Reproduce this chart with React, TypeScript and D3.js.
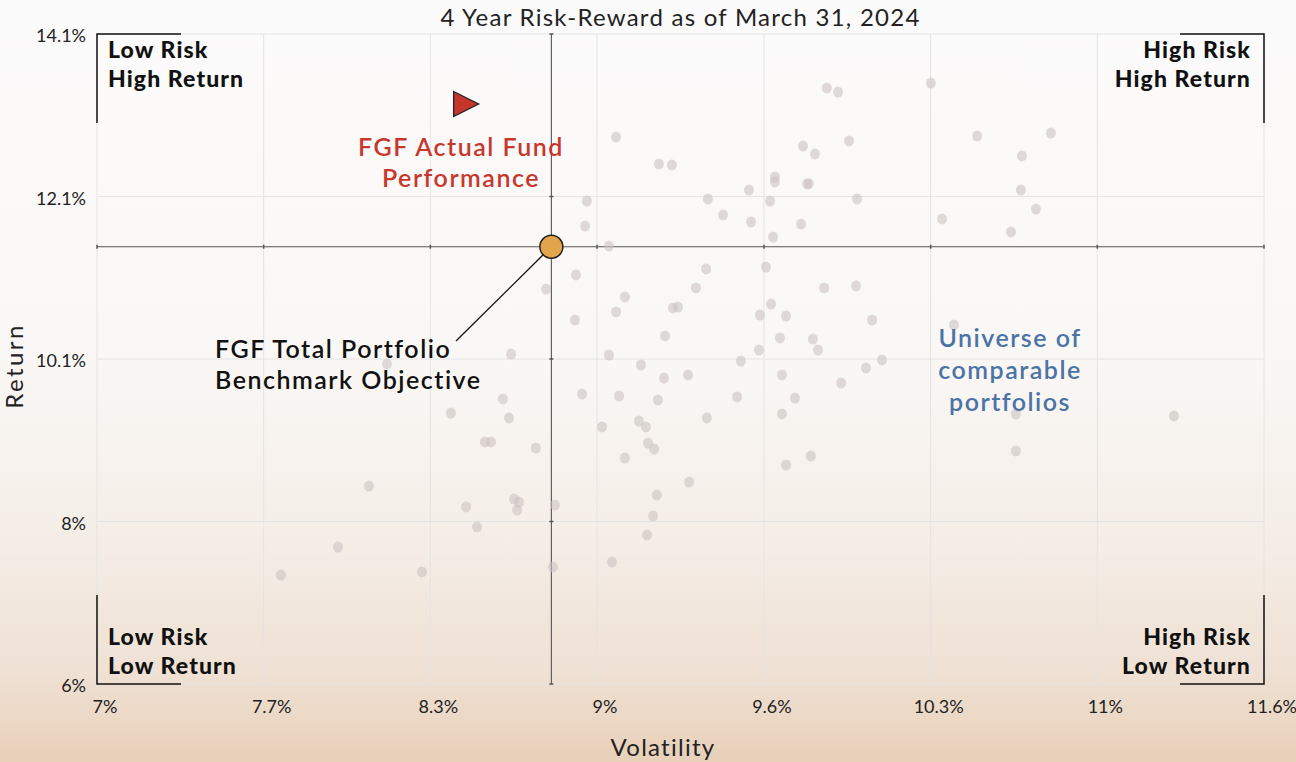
import React from "react";
import * as d3 from "d3";

const W = 1296;
const H = 762;

const title = "4 Year Risk-Reward as of March 31, 2024";
const xAxisLabel = "Volatility";
const yAxisLabel = "Return";

const xDomain = [7, 11.6];
const yDomain = [6, 14.1];
const xTickValues = [7, 7.657, 8.314, 8.971, 9.629, 10.286, 10.943, 11.6];
const xTickLabels = ["7%", "7.7%", "8.3%", "9%", "9.6%", "10.3%", "11%", "11.6%"];
const yTickValues = [6, 8.025, 10.05, 12.075, 14.1];
const yTickLabels = ["6%", "8%", "10.1%", "12.1%", "14.1%"];

// Universe of comparable portfolios (volatility %, return %)
const universeVol = [
  9.046, 9.215, 9.266, 8.931, 8.924, 9.018, 9.408, 9.468, 9.401, 9.361,
  8.888, 8.77, 9.081, 9.046, 9.27, 9.29, 8.884, 9.877, 9.921, 10.287,
  9.783, 9.83, 9.964, 10.469, 10.76, 10.646, 9.672, 9.672, 9.799, 9.806,
  9.57, 9.653, 9.996, 10.642, 10.701, 10.331, 9.578, 9.775, 9.665, 10.603,
  9.637, 9.866, 9.992, 9.657, 9.613, 9.716, 10.055, 10.378, 9.239, 9.692,
  9.822, 9.842, 9.609, 9.018, 9.538, 10.094, 10.031, 9.144, 9.235, 9.33,
  9.7, 9.933, 8.912, 9.058, 9.211, 9.523, 9.751, 9.404, 9.7, 8.991,
  9.136, 9.164, 9.172, 9.196, 9.081, 9.814, 9.716, 9.334, 9.207, 9.192,
  9.168, 10.622, 11.245, 10.622, 8.632, 8.143, 8.6, 8.624, 8.395, 8.529,
  8.553, 8.73, 8.072, 8.455, 8.644, 8.663, 8.656, 8.805, 8.498, 7.95,
  8.797, 7.725, 8.281, 9.03,
];
const universeRet = [
  12.816, 12.48, 12.467, 12.019, 11.707, 11.458, 12.044, 11.844, 11.172, 10.935,
  11.097, 10.922, 10.823, 10.636, 10.686, 10.698, 10.536, 13.427, 13.377, 13.489,
  12.704, 12.605, 12.767, 12.829, 12.866, 12.58, 12.318, 12.256, 12.231, 12.235,
  12.156, 12.019, 12.044, 12.156, 11.919, 11.795, 11.757, 11.732, 11.57, 11.633,
  11.196, 10.935, 10.96, 10.735, 10.598, 10.586, 10.536, 10.474, 10.337, 10.312,
  10.299, 10.162, 10.162, 10.1, 10.025, 10.038, 9.938, 9.975, 9.813, 9.851,
  9.851, 9.751, 9.614, 9.589, 9.539, 9.577, 9.564, 9.315, 9.365, 9.203,
  9.277, 9.203, 9.003, 8.928, 8.816, 8.841, 8.729, 8.517, 8.355, 8.094,
  7.857, 9.365, 9.34, 8.904, 10.112, 9.988, 9.552, 9.315, 9.377, 9.016,
  9.016, 8.941, 8.467, 8.206, 8.305, 8.268, 8.168, 8.231, 7.956, 7.707,
  7.458, 7.358, 7.396, 7.52,
];

const benchmark = { vol: 8.791, ret: 11.449 };
const actualFund = { vol: 8.455, ret: 13.228 };

const actualLabel = ["FGF Actual Fund", "Performance"];
const benchmarkLabel = ["FGF Total Portfolio", "Benchmark Objective"];
const universeLabel = ["Universe of", "comparable", "portfolios"];
const cornerLabels = {
  tl: ["Low Risk", "High Return"],
  tr: ["High Risk", "High Return"],
  bl: ["Low Risk", "Low Return"],
  br: ["High Risk", "Low Return"],
};

const FONT = "Lato, 'Open Sans', sans-serif";

export default function App() {
  const margin = { left: 97, right: W - 1264, top: 34, bottom: H - 684 };
  const x = d3.scaleLinear().domain(xDomain).range([margin.left, W - margin.right]);
  const y = d3.scaleLinear().domain(yDomain).range([H - margin.bottom, margin.top]);
  const x0 = x.range()[0];
  const x1 = x.range()[1];
  const y0 = y.range()[0];
  const y1 = y.range()[1];
  const bx = x(benchmark.vol);
  const by = y(benchmark.ret);
  const ax = x(actualFund.vol);
  const ay = y(actualFund.ret);
  const br = 11.5;
  const arm = 84;
  const armV = 89;

  const points = universeVol.map((v, i) => ({ v, r: universeRet[i] }));

  const cornerStyle = { fontFamily: FONT, fontWeight: 900, fontSize: 23, letterSpacing: 1.1, fill: "#111" } as const;
  const annStyle = { fontFamily: FONT, fontWeight: 600, fontSize: 25, letterSpacing: 1.5 } as const;
  const plainStyle = { fontFamily: FONT, fontSize: 24, letterSpacing: 1.25, fill: "#222" } as const;

  // leader line end
  const lx = 456;
  const ly = 341;
  const ang = Math.atan2(ly - by, lx - bx);

  return (
    <div>
      <style>{`body{margin:0;}`}</style>
      <svg width={W} height={H} style={{ display: "block" }}>
        <defs>
          <linearGradient id="bg" x1="0" y1="0" x2="0" y2="1">
            <stop offset="0" stopColor="#fcfbfb" />
            <stop offset="0.45" stopColor="#faf8f6" />
            <stop offset="0.7" stopColor="#f5eee8" />
            <stop offset="0.88" stopColor="#efe1d4" />
            <stop offset="1" stopColor="#e8d0b9" />
          </linearGradient>
        </defs>
        <rect x={0} y={0} width={W} height={H} fill="url(#bg)" />

        {/* gridlines */}
        {xTickValues.map((t, i) => (
          <line key={"gx" + i} x1={x(t)} x2={x(t)} y1={y1} y2={y0} stroke="#e4e4e4" strokeWidth={1} />
        ))}
        {yTickValues.map((t, i) => (
          <line key={"gy" + i} x1={x0} x2={x1} y1={y(t)} y2={y(t)} stroke="#e4e4e4" strokeWidth={1} />
        ))}

        {/* crosshair */}
        <line x1={bx} x2={bx} y1={y1} y2={y0} stroke="#555" strokeWidth={1.1} />
        <line x1={x0} x2={x1} y1={by} y2={by} stroke="#555" strokeWidth={1.1} />
        {xTickValues.map((t, i) => (
          <line key={"cx" + i} x1={x(t)} x2={x(t)} y1={by - 2} y2={by + 2} stroke="#555" strokeWidth={1.5} />
        ))}
        {yTickValues.map((t, i) => (
          <line key={"cy" + i} x1={bx - 2} x2={bx + 2} y1={y(t)} y2={y(t)} stroke="#555" strokeWidth={1.5} />
        ))}

        {/* universe points */}
        {points.map((p, i) => (
          <ellipse key={"p" + i} cx={x(p.v)} cy={y(p.r)} rx={5} ry={5.5} fill="#cbc3c1" fillOpacity={0.6} />
        ))}

        {/* corner brackets */}
        <path d={`M${x0 + arm},${y1} H${x0} V${y1 + armV}`} fill="none" stroke="#111" strokeWidth={1.5} />
        <path d={`M${x0},${y0 - armV} V${y0} H${x0 + arm}`} fill="none" stroke="#111" strokeWidth={1.5} />
        <path d={`M${x1 - arm},${y1} H${x1} V${y1 + armV}`} fill="none" stroke="#111" strokeWidth={1.5} />
        <path d={`M${x1},${y0 - armV} V${y0} H${x1 - arm}`} fill="none" stroke="#111" strokeWidth={1.5} />

        <text style={cornerStyle}>
          <tspan x={x0 + 11} y={y1 + 24}>{cornerLabels.tl[0]}</tspan>
          <tspan x={x0 + 11} y={y1 + 53}>{cornerLabels.tl[1]}</tspan>
        </text>
        <text textAnchor="end" style={cornerStyle}>
          <tspan x={x1 - 13} y={y1 + 24}>{cornerLabels.tr[0]}</tspan>
          <tspan x={x1 - 13} y={y1 + 53}>{cornerLabels.tr[1]}</tspan>
        </text>
        <text style={cornerStyle}>
          <tspan x={x0 + 11} y={y0 - 39}>{cornerLabels.bl[0]}</tspan>
          <tspan x={x0 + 11} y={y0 - 10}>{cornerLabels.bl[1]}</tspan>
        </text>
        <text textAnchor="end" style={cornerStyle}>
          <tspan x={x1 - 13} y={y0 - 39}>{cornerLabels.br[0]}</tspan>
          <tspan x={x1 - 13} y={y0 - 10}>{cornerLabels.br[1]}</tspan>
        </text>

        {/* tick labels */}
        {xTickValues.map((t, i) => (
          <text key={"xt" + i} x={x(t) + 8} y={713} textAnchor="middle"
            style={{ fontFamily: FONT, fontSize: 18, fill: "#222" }}>
            {xTickLabels[i]}
          </text>
        ))}
        {yTickValues.map((t, i) => (
          <text key={"yt" + i} x={86} y={y(t) + 8} textAnchor="end"
            style={{ fontFamily: FONT, fontSize: 18, fill: "#222" }}>
            {yTickLabels[i]}
          </text>
        ))}

        {/* axis titles */}
        <text x={663} y={756} textAnchor="middle" style={plainStyle}>
          {xAxisLabel}
        </text>
        <text transform={`translate(23,366) rotate(-90)`} textAnchor="middle"
          style={{ ...plainStyle, fontSize: 24, letterSpacing: 2.4 }}>
          {yAxisLabel}
        </text>
        <text x={(x0 + x1) / 2} y={26} textAnchor="middle" style={plainStyle}>
          {title}
        </text>

        {/* annotations */}
        <line x1={bx + br * Math.cos(ang)} y1={by + br * Math.sin(ang)} x2={lx} y2={ly} stroke="#111" strokeWidth={1.3} />
        <circle cx={bx} cy={by} r={br} fill="#e2a54b" stroke="#222" strokeWidth={1.5} />
        <path d={`M${ax - 12.5},${ay - 12.5} L${ax + 12.5},${ay} L${ax - 12.5},${ay + 12.5} Z`}
          fill="#c4362b" stroke="#222" strokeWidth={1.3} />

        <text textAnchor="middle" style={{ ...annStyle, fill: "#c8372d" }}>
          <tspan x={461} y={156}>{actualLabel[0]}</tspan>
          <tspan x={461} y={187}>{actualLabel[1]}</tspan>
        </text>
        <text style={{ ...annStyle, fill: "#111" }}>
          <tspan x={215} y={358}>{benchmarkLabel[0]}</tspan>
          <tspan x={215} y={389}>{benchmarkLabel[1]}</tspan>
        </text>
        <text textAnchor="middle" style={{ ...annStyle, fill: "#4a73a6" }}>
          <tspan x={1010} y={347}>{universeLabel[0]}</tspan>
          <tspan x={1010} y={379}>{universeLabel[1]}</tspan>
          <tspan x={1010} y={411}>{universeLabel[2]}</tspan>
        </text>
      </svg>
    </div>
  );
}
